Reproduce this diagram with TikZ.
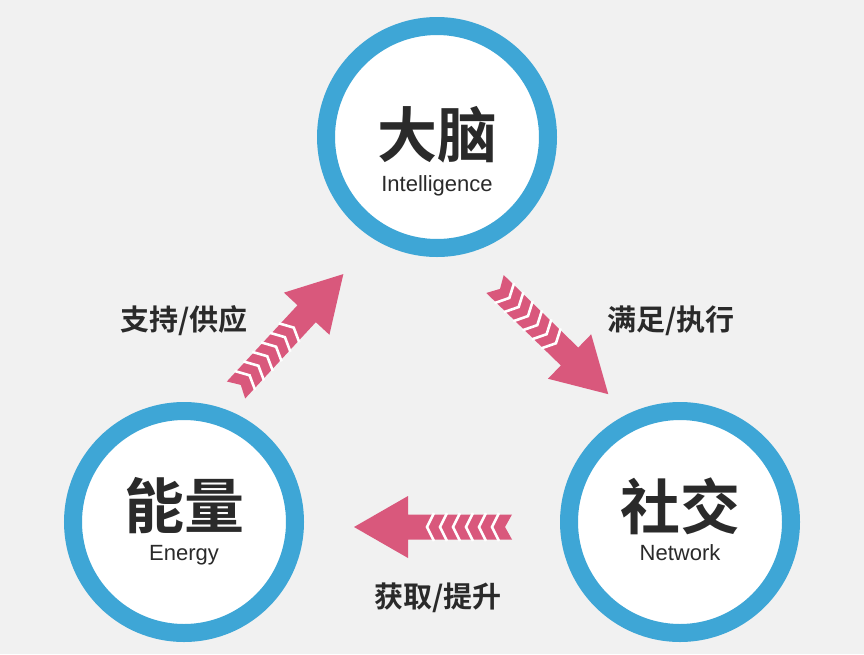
\documentclass[tikz,border=0pt]{standalone}
\usepackage{fontspec}
\setmainfont{Liberation Sans}
\newfontfamily\cjk{Noto Sans CJK SC Bold}
\definecolor{ring}{HTML}{3EA6D6}
\definecolor{pinkar}{HTML}{D9587C}
\definecolor{bg}{HTML}{F1F1F1}
\definecolor{txt}{HTML}{2A2A2A}
\tikzset{
 hub/.style={circle,draw=ring,line width=18pt,fill=white,minimum size=222pt,inner sep=0pt},
 big/.style={font=\cjk\fontsize{60}{60}\selectfont,text=txt,inner sep=0pt},
 eng/.style={font=\fontsize{22}{22}\selectfont,text=txt,inner sep=0pt},
 lab/.style={font=\cjk\fontsize{29}{29}\selectfont,text=txt},
}
\newcommand{\bigarrow}{%
 \fill[pinkar] (0,-12.5) -- (104,-12.5) -- (104,-31) -- (158,0) -- (104,31) -- (104,12.5) -- (0,12.5) -- (7,0) -- cycle;
 \foreach \i in {0,...,5}{\draw[white,line width=2.6pt] ({13+\i*13},-14) -- ({20+\i*13},0) -- ({13+\i*13},14);}
}
\begin{document}
\begin{tikzpicture}[x=1pt,y=-1pt]
\fill[bg] (0,0) rectangle (864,654);
\useasboundingbox (0,0) rectangle (864,654);
\node[hub] (brain) at (437,137) {};
\node[hub] (energy) at (184,522) {};
\node[hub] (social) at (680,522) {};
\node[big] (brainz) at ([yshift=2pt]brain.center) {大脑};
\node[eng] (braine) at ([yshift=-49pt]brain.center) {Intelligence};
\node[big] (energyz) at ([yshift=16pt]energy.center) {能量};
\node[eng] (energye) at ([yshift=-33pt]energy.center) {Energy};
\node[big] (socialz) at ([yshift=16pt]social.center) {社交};
\node[eng] (sociale) at ([yshift=-31pt]social.center) {Network};
\coordinate (t1) at (236,390);
\coordinate (t2) at (495,284);
\coordinate (t3) at (512,527);
\begin{scope}[shift={(t1)},rotate=47.2]\bigarrow\end{scope}
\begin{scope}[shift={(t2)},rotate=-44.2]\bigarrow\end{scope}
\begin{scope}[shift={(t3)},rotate=180]\bigarrow\end{scope}
\node[lab] (l1) at (184,321) {支持/供应};
\node[lab] (l2) at (671,321) {满足/执行};
\node[lab] (l3) at (438,598) {获取/提升};
\end{tikzpicture}
\end{document}
